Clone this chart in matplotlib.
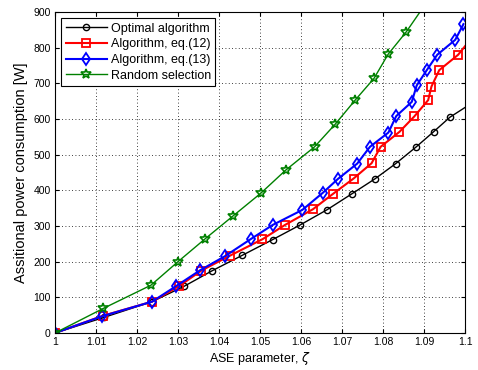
import numpy as np
import matplotlib
matplotlib.use("Agg")
import matplotlib.pyplot as plt

plt.rcParams['font.family'] = ['Liberation Sans', 'DejaVu Sans']
plt.rcParams['mathtext.fontset'] = 'dejavusans'

# data
x_opt = [1.0, 1.012, 1.0237, 1.0315, 1.0384, 1.0457, 1.0531, 1.0598, 1.0664,
         1.0725, 1.078, 1.0831, 1.0881, 1.0923, 1.0963, 1.104]
y_opt = [0, 44, 88, 131, 175, 218, 262, 303, 346, 391, 432, 475, 522, 564, 605, 662]

x_eq12 = [1.0, 1.0116, 1.0237, 1.0302, 1.0357, 1.0427, 1.0506, 1.0561, 1.0629,
          1.0679, 1.0728, 1.0772, 1.0794, 1.084, 1.0876, 1.091, 1.0918, 1.0937,
          1.0983, 1.1025]
y_eq12 = [0, 48, 88, 131, 175, 217, 263, 303, 347, 391, 433, 476, 522, 564, 607,
          653, 691, 737, 780, 840]

x_eq13 = [1.0, 1.0115, 1.0237, 1.0296, 1.0354, 1.0414, 1.0477, 1.0531, 1.0603,
          1.0653, 1.069, 1.0737, 1.0768, 1.0813, 1.0832, 1.087, 1.0882, 1.0906,
          1.0932, 1.0976, 1.0996]
y_eq13 = [0, 47, 88, 132, 176, 215, 263, 303, 345, 393, 432, 475, 522, 562, 608,
          648, 694, 736, 780, 822, 866]

x_rand = [1.0, 1.0118, 1.0234, 1.0300, 1.0365, 1.0434, 1.0502, 1.0563, 1.0633,
          1.0683, 1.0732, 1.0778, 1.0812, 1.0857, 1.0905]
y_rand = [0, 69, 134, 200, 263, 328, 392, 457, 522, 585, 653, 714, 781, 845, 925]

labels = ["Optimal algorithm", "Algorithm, eq.(12)", "Algorithm, eq.(13)",
          "Random selection"]

fig = plt.figure(figsize=(4.78, 3.70), dpi=100)
ax = fig.add_axes([0.115, 0.1, 0.858, 0.8676])

ax.plot(x_opt, y_opt, color='black', lw=1.0, marker='o', ms=4.5,
        mfc='none', mew=1.0, label=labels[0])
ax.plot(x_eq12, y_eq12, color='#ff0000', lw=1.5, marker='s', ms=5.5,
        mfc='none', mew=1.3, label=labels[1])
ax.plot(x_eq13, y_eq13, color='#0000ff', lw=1.5, marker='d', ms=6,
        mfc='none', mew=1.3, label=labels[2])
ax.plot(x_rand, y_rand, color='#008000', lw=1.0, marker='*', ms=7,
        mfc='none', mew=1.2, label=labels[3])

ax.set_xlim(1.0, 1.1)
ax.set_ylim(0, 900)
ax.set_xticks(np.arange(1.0, 1.1001, 0.01))
ax.set_xticklabels(["1", "1.01", "1.02", "1.03", "1.04", "1.05", "1.06",
                    "1.07", "1.08", "1.09", "1.1"])
ax.set_yticks(np.arange(0, 901, 100))
ax.tick_params(direction='in', top=True, right=True, labelsize=7.5, length=3,
               pad=3)
ax.grid(True, color='black', linestyle=(0, (1, 3)), linewidth=0.6)
for s in ax.spines.values():
    s.set_linewidth(0.8)

ax.set_xlabel(r"ASE parameter, $\zeta$", fontsize=9, labelpad=2)
ax.set_ylabel("Assitional power consumption [W]", fontsize=10.5, labelpad=4)

leg = ax.legend(loc='upper left', fontsize=9, fancybox=False, framealpha=1,
                edgecolor='black', handlelength=3.3, labelspacing=0.3,
                borderaxespad=0.5, handletextpad=0.3, borderpad=0.35)
leg.get_frame().set_linewidth(0.8)

fig.savefig("out.png", dpi=100)
